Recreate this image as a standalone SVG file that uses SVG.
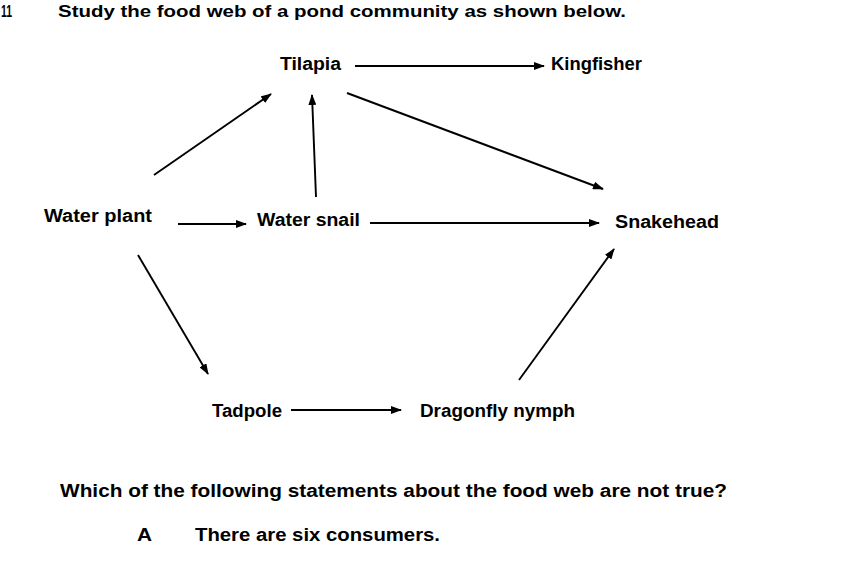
<svg xmlns="http://www.w3.org/2000/svg" width="866" height="564" viewBox="0 0 866 564">
<style>
text{font-family:"Liberation Sans",Arial,sans-serif;font-weight:bold;font-size:18px;fill:#000}
.t{font-size:17px}
.e{stroke:#000;stroke-width:1.9;fill:none;marker-end:url(#ah)}
</style>
<defs>
<marker id="ah" viewBox="0 0 11 8" refX="10" refY="4" markerWidth="11" markerHeight="8" markerUnits="userSpaceOnUse" orient="auto">
<path d="M0,0 L11,4 L0,8 Z" fill="#000"/>
</marker>
</defs>
<rect width="866" height="564" fill="#fff"/>
<g id="header">
<text class="t" x="1" y="16.5" textLength="11" lengthAdjust="spacingAndGlyphs">11</text>
<text class="t" x="58" y="16.5" textLength="568" lengthAdjust="spacingAndGlyphs">Study the food web of a pond community as shown below.</text>
</g>
<g id="connectors">
<line class="e" x1="355" y1="66" x2="544" y2="66"/>
<line class="e" x1="154" y1="175" x2="271" y2="94"/>
<line class="e" x1="316" y1="197" x2="312" y2="95"/>
<line class="e" x1="347" y1="93" x2="603" y2="189"/>
<line class="e" x1="178" y1="224" x2="246" y2="224"/>
<line class="e" x1="370" y1="223" x2="599" y2="223"/>
<line class="e" x1="138" y1="255" x2="208" y2="374"/>
<line class="e" x1="291" y1="410" x2="401" y2="410"/>
<line class="e" x1="519" y1="380" x2="614" y2="249"/>
</g>
<g id="tilapia"><text x="280" y="70" textLength="61" lengthAdjust="spacingAndGlyphs">Tilapia</text></g>
<g id="kingfisher"><text x="551" y="70" textLength="91" lengthAdjust="spacingAndGlyphs">Kingfisher</text></g>
<g id="water-plant"><text x="44" y="222" textLength="108" lengthAdjust="spacingAndGlyphs">Water plant</text></g>
<g id="water-snail"><text x="257" y="226" textLength="103" lengthAdjust="spacingAndGlyphs">Water snail</text></g>
<g id="snakehead"><text x="615" y="228" textLength="104" lengthAdjust="spacingAndGlyphs">Snakehead</text></g>
<g id="tadpole"><text x="212" y="417" textLength="70" lengthAdjust="spacingAndGlyphs">Tadpole</text></g>
<g id="dragonfly-nymph"><text x="420" y="417" textLength="155" lengthAdjust="spacingAndGlyphs">Dragonfly nymph</text></g>
<g id="question">
<text x="60" y="497" textLength="667" lengthAdjust="spacingAndGlyphs">Which of the following statements about the food web are not true?</text>
<text x="137" y="541" textLength="15" lengthAdjust="spacingAndGlyphs">A</text>
<text x="195" y="541" textLength="245" lengthAdjust="spacingAndGlyphs">There are six consumers.</text>
</g>
</svg>
